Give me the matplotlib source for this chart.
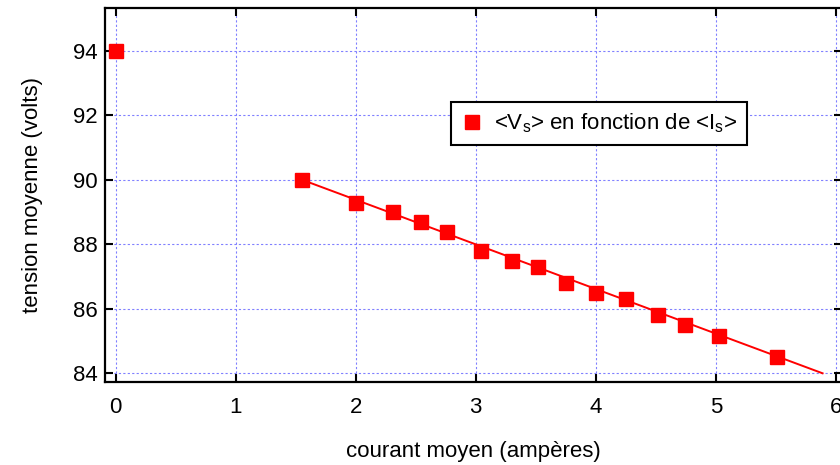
import matplotlib
matplotlib.use('Agg')
from matplotlib import pyplot as plt

# measured points <Is>, <Vs>
courant = [0.0, 1.55, 2.0, 2.31, 2.54, 2.76, 3.04, 3.30, 3.52, 3.75, 4.0, 4.25, 4.52, 4.74, 5.03, 5.51]
tension = [94.0, 90.0, 89.28, 89.0, 88.69, 88.38, 87.79, 87.48, 87.29, 86.80, 86.49, 86.30, 85.80, 85.49, 85.16, 84.50]
# fitted straight line (end points)
fit_x = [1.55, 5.89]
fit_y = [90.0, 84.0]
xticks = [0, 1, 2, 3, 4, 5, 6]
yticks = [84, 86, 88, 90, 92, 94]

plt.rcParams['font.family'] = ['Liberation Sans', 'DejaVu Sans']
plt.rcParams['mathtext.default'] = 'regular'

fig = plt.figure(figsize=(8.4, 4.65), dpi=100)
ax = fig.add_axes([105 / 840, 83 / 465, 737 / 840, 374 / 465])

ax.plot(fit_x, fit_y, color='red', lw=1.4, zorder=3)
ax.plot(courant, tension, 's', color='red', ms=9.4, zorder=4,
        label='<V$_s$> en fonction de <I$_s$>')

ax.set_xlim(-0.0892, 6.052)
ax.set_ylim(83.73, 95.32)
ax.set_xticks(xticks)
ax.set_yticks(yticks)
ax.grid(True, color=(0.5, 0.5, 1.0), ls=(0, (2, 2)), lw=0.8)
ax.tick_params(direction='in', length=6, width=1.5, top=True, right=True,
               labelsize=16)
ax.tick_params(axis='x', pad=11)
ax.tick_params(axis='y', pad=5)
for s in ax.spines.values():
    s.set_linewidth(1.6)

ax.set_xlabel('courant moyen (ampères)', fontsize=16, labelpad=16)
ax.set_ylabel('tension moyenne (volts)', fontsize=16, labelpad=22)

leg = ax.legend(loc='center', bbox_to_anchor=(599 / 840, 1 - 123.5 / 465),
                bbox_transform=fig.transFigure, fontsize=16, fancybox=False,
                framealpha=1, edgecolor='black', borderpad=0.45,
                handletextpad=0.5, handlelength=1.0, borderaxespad=0)
leg.get_frame().set_linewidth(1.5)

fig.savefig('out.png', dpi=100)
plt.close('all')
